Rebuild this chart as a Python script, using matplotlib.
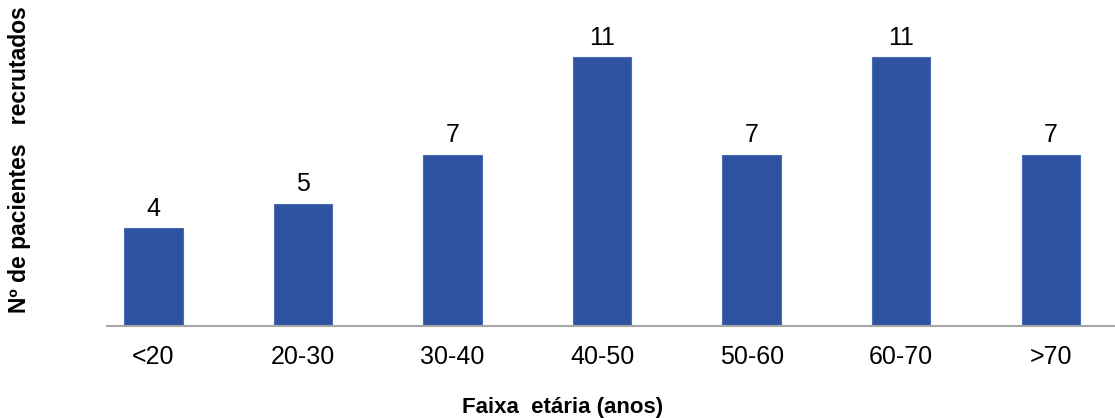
import matplotlib.pyplot as plt
import numpy as np

plt.rcParams['font.family'] = ['Liberation Sans', 'DejaVu Sans']

categories = ["<20", "20-30", "30-40", "40-50", "50-60", "60-70", ">70"]
counts = [4, 5, 7, 11, 7, 11, 7]

fig = plt.figure(figsize=(11.15, 4.18), dpi=100)
ax = fig.add_axes([0.096, 0.22, 0.904, 0.78])

x = np.arange(len(categories))
bars = ax.bar(x, counts, width=0.39, color="#2F52A1", edgecolor="#4A6BB5", linewidth=0.8)

for xi, v in zip(x, counts):
    ax.text(xi, v + 0.3, str(v), ha="center", va="bottom", fontsize=18, color="black")

ax.set_xlim(-0.31, 6.43)
ax.set_ylim(0, 13.33)
ax.set_xticks(x)
ax.set_xticklabels(categories, fontsize=18)
ax.tick_params(axis="x", length=0, pad=14)
ax.set_yticks([])

for side in ["top", "right", "left"]:
    ax.spines[side].set_visible(False)
ax.spines["bottom"].set_color("#A6A6A6")
ax.spines["bottom"].set_linewidth(1.5)

fig.text(20 / 1115, 1 - 160 / 418, "Nº de pacientes   recrutados", rotation=90,
         ha="center", va="center", fontsize=16.5, fontweight="bold")
fig.text(563 / 1115, 1 - 407 / 418, "Faixa  etária (anos)",
         ha="center", va="center", fontsize=16, fontweight="bold")

fig.savefig("out.png", dpi=100)
